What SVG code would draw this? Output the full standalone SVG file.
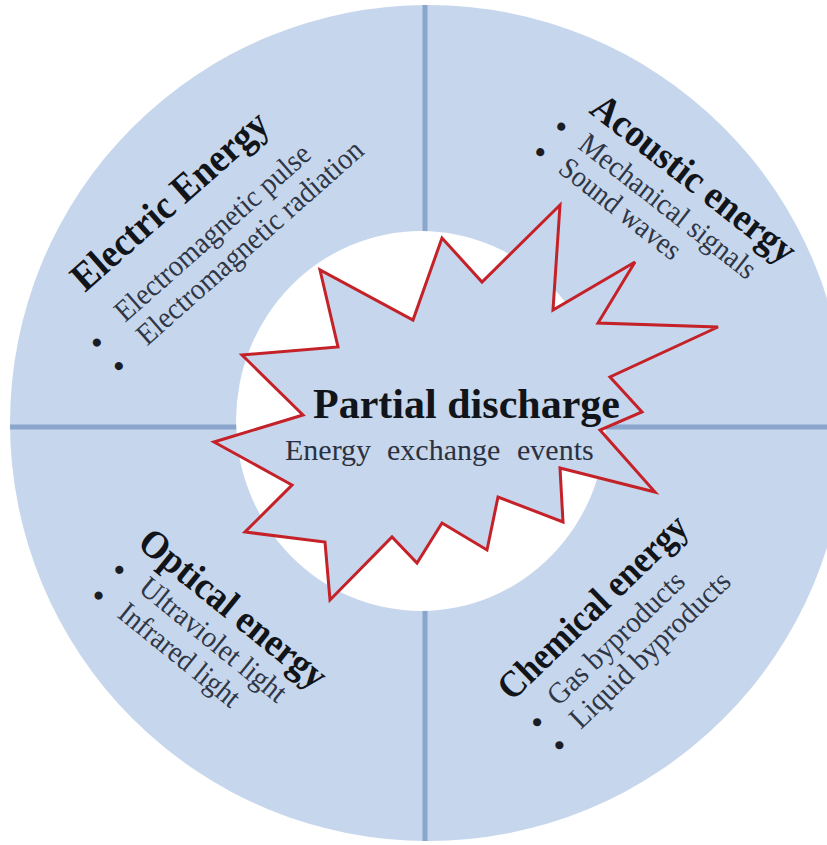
<svg xmlns="http://www.w3.org/2000/svg" width="827" height="845" viewBox="0 0 827 845">
<style>
.title{font-family:"Liberation Serif","Times New Roman",serif;font-weight:bold;fill:#111418;}
.item{font-family:"Liberation Serif","Times New Roman",serif;fill:#2f3646;font-size:30px;}
.bullet{font-family:"Liberation Serif","Times New Roman",serif;fill:#1a1d24;font-size:30px;font-weight:bold;text-anchor:middle;}
.divider{stroke:#8ba6cc;stroke-width:5;}
</style>
<rect width="827" height="845" fill="#ffffff"/>
<g id="ring">
<circle cx="428" cy="423" r="418" fill="#c6d6ec"/>
</g>
<g id="connectors">
<line class="divider" x1="425" y1="5" x2="425" y2="841"/>
<line class="divider" x1="10" y1="427" x2="827" y2="427"/>
</g>
<g id="core">
<ellipse cx="421" cy="421" rx="185" ry="190" fill="#ffffff"/>
</g>
<g id="partial-discharge">
<polygon points="560,205 553,310 635,262 598,323 718,327 610,377 642,412 600,430 655,492 560,468 563,522 498,497 487,550 442,523 417,563 392,537 330,600 325,542 245,532 292,485 214,442 303,415 242,355 338,347 320,270 413,320 442,238 482,282" fill="#c6d6ec" stroke="#c42128" stroke-width="3" stroke-linejoin="miter"/>
<text class="title" x="313" y="418" font-size="42" textLength="307">Partial discharge</text>
<text class="item" y="460" style="font-size:30px;fill:#2a3140"><tspan x="285">Energy</tspan><tspan x="387">exchange</tspan><tspan x="517">events</tspan></text>
</g>
<g id="electric" transform="translate(85,293) rotate(-41.5)">
<text class="title" x="0" y="0" font-size="40" textLength="249" lengthAdjust="spacingAndGlyphs">Electric Energy</text>
<text class="bullet" x="-24" y="55">•</text>
<text class="item" x="10" y="49" textLength="251" lengthAdjust="spacingAndGlyphs">Electromagnetic pulse</text>
<text class="bullet" x="-23" y="87">•</text>
<text class="item" x="11" y="81" textLength="292" lengthAdjust="spacingAndGlyphs">Electromagnetic radiation</text>
</g>
<g id="acoustic" transform="translate(588,112) rotate(38)">
<text class="title" x="0" y="0" font-size="39" textLength="249" lengthAdjust="spacingAndGlyphs">Acoustic energy</text>
<text class="bullet" x="-12" y="38">•</text>
<text class="item" x="13" y="35" textLength="216" lengthAdjust="spacingAndGlyphs">Mechanical signals</text>
<text class="bullet" x="-13" y="71">•</text>
<text class="item" x="12" y="66" textLength="146" lengthAdjust="spacingAndGlyphs">Sound waves</text>
</g>
<g id="optical" transform="translate(136,546) rotate(39)">
<text class="title" x="0" y="0" font-size="39" textLength="230" lengthAdjust="spacingAndGlyphs">Optical energy</text>
<text class="bullet" x="2" y="39">•</text>
<text class="item" x="29" y="34" textLength="180" lengthAdjust="spacingAndGlyphs">Ultraviolet  light</text>
<text class="bullet" x="2" y="72">•</text>
<text class="item" x="29" y="67" textLength="147" lengthAdjust="spacingAndGlyphs">Infrared light</text>
</g>
<g id="chemical" transform="translate(512,702) rotate(-44)">
<text class="title" x="0" y="0" font-size="38" textLength="248" lengthAdjust="spacingAndGlyphs">Chemical energy</text>
<text class="bullet" x="4" y="42">•</text>
<text class="item" x="30" y="36" textLength="178" lengthAdjust="spacingAndGlyphs">Gas byproducts</text>
<text class="bullet" x="4" y="74">•</text>
<text class="item" x="30" y="68" textLength="211" lengthAdjust="spacingAndGlyphs">Liquid byproducts</text>
</g>
</svg>
